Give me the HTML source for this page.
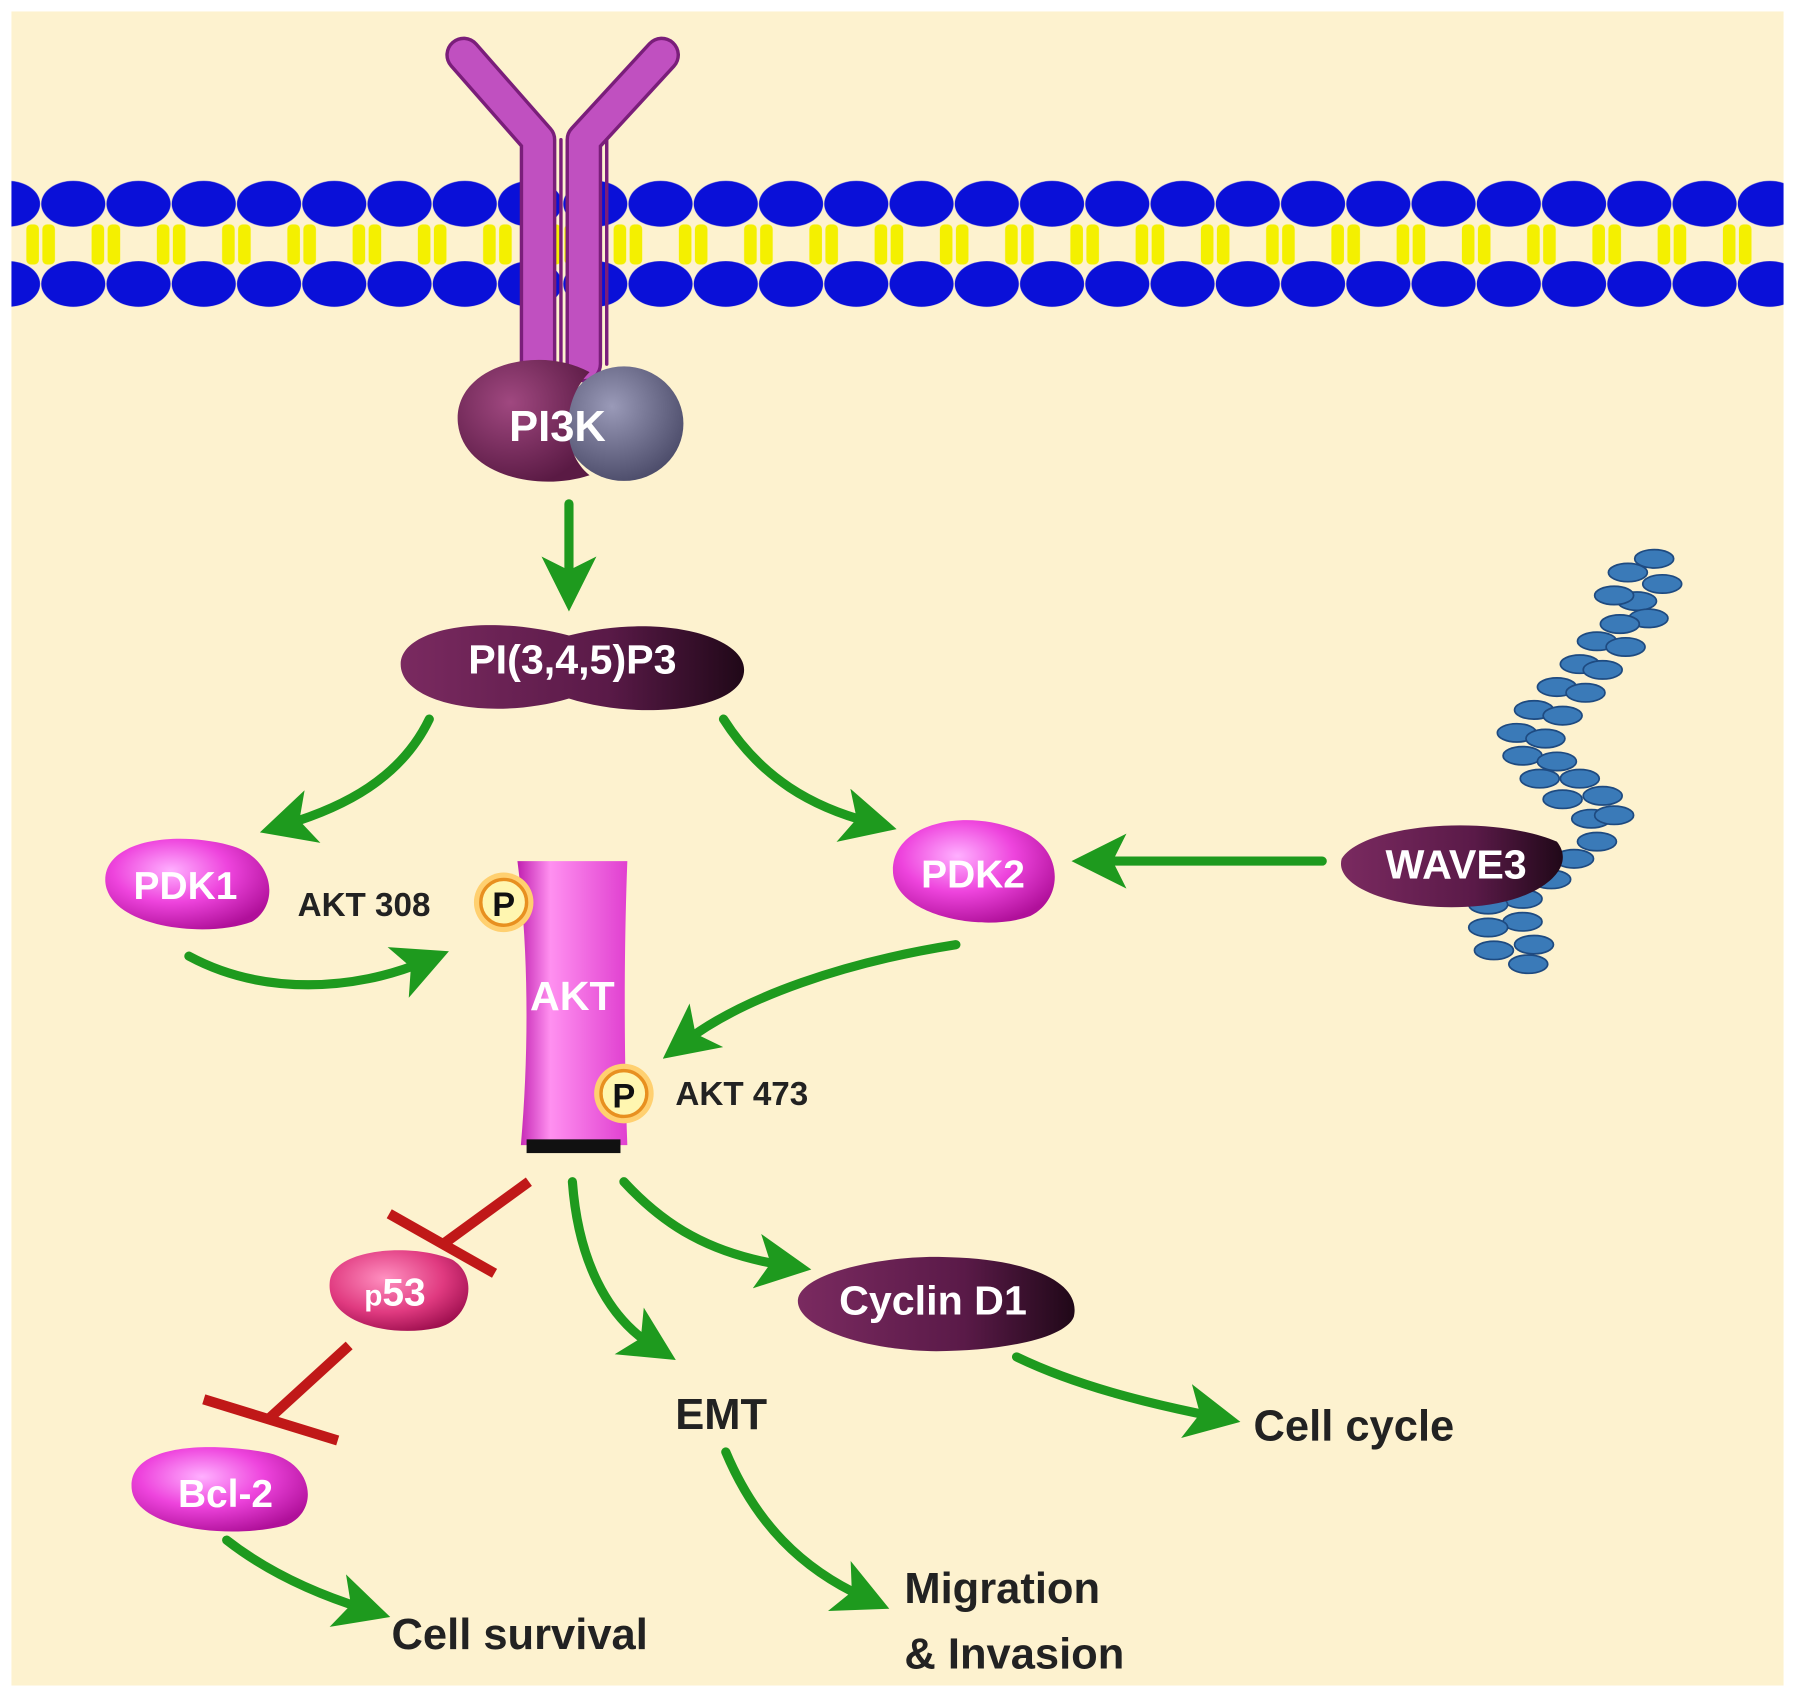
<!DOCTYPE html>
<html><head><meta charset="utf-8"><style>
html,body{margin:0;padding:0;background:#fff}
svg{display:block}
text{font-family:"Liberation Sans",Arial,sans-serif;font-weight:bold}
</style></head><body>
<svg width="1795" height="1697" viewBox="0 0 1568 1482" preserveAspectRatio="none" xmlns="http://www.w3.org/2000/svg">
<defs>
<radialGradient id="pink" cx="40%" cy="35%" r="70%"><stop offset="0" stop-color="#ffb0ff"/><stop offset="0.5" stop-color="#ee44dd"/><stop offset="1" stop-color="#b0109a"/></radialGradient>
<radialGradient id="red" cx="40%" cy="35%" r="70%"><stop offset="0" stop-color="#ff90c0"/><stop offset="0.6" stop-color="#e03a80"/><stop offset="1" stop-color="#a01050"/></radialGradient>
<linearGradient id="dark" x1="0" y1="0" x2="1" y2="0"><stop offset="0" stop-color="#7a2a60"/><stop offset="0.6" stop-color="#5a1a48"/><stop offset="1" stop-color="#200818"/></linearGradient>
<radialGradient id="pi3k" cx="40%" cy="35%" r="70%"><stop offset="0" stop-color="#a04880"/><stop offset="1" stop-color="#5a1a44"/></radialGradient>
<radialGradient id="gray" cx="40%" cy="35%" r="70%"><stop offset="0" stop-color="#9a9ab8"/><stop offset="1" stop-color="#4a4a68"/></radialGradient>
<linearGradient id="akt" x1="0" y1="0" x2="1" y2="0"><stop offset="0" stop-color="#c020b0"/><stop offset="0.3" stop-color="#ff90f0"/><stop offset="1" stop-color="#e040d0"/></linearGradient>
<marker id="ah" markerWidth="6" markerHeight="6" refX="3" refY="3" orient="auto" markerUnits="strokeWidth"><path d="M0,0 L6,3 L0,6 L1.5,3 z" fill="#1e9a1e"/></marker>
<pattern id="mem" x="7" y="0" width="57" height="300" patternUnits="userSpaceOnUse">
<ellipse cx="0" cy="178" rx="28" ry="20" fill="#0a10d8"/><ellipse cx="57" cy="178" rx="28" ry="20" fill="#0a10d8"/>
<ellipse cx="0" cy="248" rx="28" ry="20" fill="#0a10d8"/><ellipse cx="57" cy="248" rx="28" ry="20" fill="#0a10d8"/>
<rect x="16" y="196" width="11" height="35" rx="4" fill="#f4f000"/><rect x="30" y="196" width="11" height="35" rx="4" fill="#f4f000"/>
</pattern>
</defs>
<rect width="1568" height="1482" fill="#fff"/>
<rect x="10" y="10" width="1548" height="1462" fill="#fdf2cf"/>
<rect x="10" y="150" width="1548" height="125" fill="url(#mem)"/>
<!-- receptor -->
<g fill="none" stroke-linecap="round" stroke-linejoin="round">
<path d="M405,48 L470,122 L470,318" stroke="#7a1e7a" stroke-width="32"/>
<path d="M578,48 L510,122 L510,318" stroke="#7a1e7a" stroke-width="32"/>
<path d="M405,48 L470,122 L470,318" stroke="#c050c0" stroke-width="26"/>
<path d="M578,48 L510,122 L510,318" stroke="#c050c0" stroke-width="26"/>
<path d="M470,122 L470,318 M510,122 L510,318" stroke="#7a1e7a" stroke-width="3" transform="translate(20,0)"/>
</g>
<ellipse cx="545" cy="370" rx="52" ry="50" fill="url(#gray)"/>
<path d="M400,370 C395,320 470,300 515,325 C490,350 490,395 515,415 C470,430 405,415 400,370 Z" fill="url(#pi3k)"/>
<text x="487" y="385" font-size="38" fill="#fff" text-anchor="middle">PI3K</text>
<g fill="none" stroke="#1e9a1e" stroke-width="8" stroke-linecap="round">
<path d="M497,440 L497,510" marker-end="url(#ah)"/>
<path d="M375,628 C350,680 300,705 250,720" marker-end="url(#ah)"/>
<path d="M632,628 C665,680 710,705 760,718" marker-end="url(#ah)"/>
<path d="M1155,752 L960,752" marker-end="url(#ah)"/>
<path d="M165,835 C230,870 310,865 370,840" marker-end="url(#ah)"/>
<path d="M835,825 C740,840 650,870 598,910" marker-end="url(#ah)"/>
<path d="M500,1032 C505,1100 530,1150 570,1175" marker-end="url(#ah)"/>
<path d="M545,1032 C580,1070 620,1095 685,1105" marker-end="url(#ah)"/>
<path d="M888,1185 C940,1210 1000,1225 1060,1237" marker-end="url(#ah)"/>
<path d="M634,1268 C660,1330 700,1370 755,1395" marker-end="url(#ah)"/>
<path d="M198,1345 C230,1370 270,1390 318,1405" marker-end="url(#ah)"/>
</g>
<path d="M350,580 C350,550 420,535 497,555 C575,535 650,555 650,585 C650,620 560,630 497,610 C430,630 350,615 350,580 Z" fill="url(#dark)"/>
<text x="500" y="588" font-size="36" fill="#fff" text-anchor="middle">PI(3,4,5)P3</text>
<path d="M92,770 C90,735 150,725 200,738 C240,748 245,790 220,805 C180,820 95,810 92,770 Z" fill="url(#pink)"/>
<text x="162" y="785" font-size="34" fill="#fff" text-anchor="middle">PDK1</text>
<path d="M780,760 C780,720 840,705 890,725 C930,740 930,785 900,800 C860,815 780,800 780,760 Z" fill="url(#pink)"/>
<text x="850" y="775" font-size="34" fill="#fff" text-anchor="middle">PDK2</text>
<g fill="#3a7ab8" stroke="#1e4a80" stroke-width="1.5">
<ellipse cx="1445" cy="488" rx="17" ry="8"/><ellipse cx="1452" cy="510" rx="17" ry="8"/><ellipse cx="1422" cy="500" rx="17" ry="8"/><ellipse cx="1430" cy="525" rx="17" ry="8"/><ellipse cx="1410" cy="520" rx="17" ry="8"/><ellipse cx="1440" cy="540" rx="17" ry="8"/><ellipse cx="1415" cy="545" rx="17" ry="8"/><ellipse cx="1395" cy="560" rx="17" ry="8"/><ellipse cx="1420" cy="565" rx="17" ry="8"/><ellipse cx="1380" cy="580" rx="17" ry="8"/><ellipse cx="1400" cy="585" rx="17" ry="8"/><ellipse cx="1360" cy="600" rx="17" ry="8"/><ellipse cx="1385" cy="605" rx="17" ry="8"/><ellipse cx="1340" cy="620" rx="17" ry="8"/><ellipse cx="1365" cy="625" rx="17" ry="8"/><ellipse cx="1325" cy="640" rx="17" ry="8"/><ellipse cx="1350" cy="645" rx="17" ry="8"/><ellipse cx="1330" cy="660" rx="17" ry="8"/><ellipse cx="1360" cy="665" rx="17" ry="8"/><ellipse cx="1345" cy="680" rx="17" ry="8"/><ellipse cx="1380" cy="680" rx="17" ry="8"/><ellipse cx="1365" cy="698" rx="17" ry="8"/><ellipse cx="1400" cy="695" rx="17" ry="8"/><ellipse cx="1390" cy="715" rx="17" ry="8"/><ellipse cx="1410" cy="712" rx="17" ry="8"/><ellipse cx="1395" cy="735" rx="17" ry="8"/><ellipse cx="1375" cy="750" rx="17" ry="8"/><ellipse cx="1355" cy="768" rx="17" ry="8"/><ellipse cx="1330" cy="785" rx="17" ry="8"/><ellipse cx="1300" cy="790" rx="17" ry="8"/><ellipse cx="1330" cy="805" rx="17" ry="8"/><ellipse cx="1300" cy="810" rx="17" ry="8"/><ellipse cx="1340" cy="825" rx="17" ry="8"/><ellipse cx="1305" cy="830" rx="17" ry="8"/><ellipse cx="1335" cy="842" rx="17" ry="8"/>
</g>
<path d="M1172,750 C1190,720 1300,710 1360,735 C1380,760 1340,790 1280,792 C1220,795 1165,775 1172,750 Z" fill="url(#dark)"/>
<text x="1272" y="767" font-size="36" fill="#fff" text-anchor="middle">WAVE3</text>
<path d="M452,752 L548,752 C545,830 545,920 548,1000 L455,1000 C462,920 462,830 452,752 Z" fill="url(#akt)"/>
<rect x="460" y="995" width="82" height="12" fill="#111"/>
<text x="500" y="882" font-size="36" fill="#fff" text-anchor="middle">AKT</text>
<g>
<circle cx="440" cy="788" r="26" fill="#ffd070"/><circle cx="440" cy="788" r="20" fill="#fff6b0" stroke="#e89020" stroke-width="3"/>
<text x="440" y="800" font-size="30" fill="#111" text-anchor="middle">P</text>
<circle cx="545" cy="955" r="26" fill="#ffd070"/><circle cx="545" cy="955" r="20" fill="#fff6b0" stroke="#e89020" stroke-width="3"/>
<text x="545" y="967" font-size="30" fill="#111" text-anchor="middle">P</text>
</g>
<text x="260" y="800" font-size="29" fill="#222">AKT 308</text>
<text x="590" y="965" font-size="29" fill="#222">AKT 473</text>
<g stroke="#c01818" stroke-width="9" stroke-linecap="butt" fill="none">
<path d="M462,1032 L385,1088"/><path d="M340,1060 L432,1112"/>
<path d="M305,1175 L236,1238"/><path d="M178,1222 L295,1258"/>
</g>
<path d="M288,1120 C290,1090 360,1085 395,1100 C420,1115 410,1155 380,1160 C340,1168 285,1155 288,1120 Z" fill="url(#red)"/>
<text x="345" y="1140" font-size="34" fill="#fff" text-anchor="middle"><tspan font-size="26">p</tspan>53</text>
<path d="M115,1300 C112,1265 170,1258 230,1268 C275,1275 280,1320 250,1332 C200,1345 118,1335 115,1300 Z" fill="url(#pink)"/>
<text x="197" y="1316" font-size="34" fill="#fff" text-anchor="middle">Bcl-2</text>
<path d="M697,1135 C700,1110 780,1095 830,1098 C900,1100 945,1120 938,1150 C930,1170 870,1180 818,1180 C760,1180 695,1160 697,1135 Z" fill="url(#dark)"/>
<text x="815" y="1148" font-size="36" fill="#fff" text-anchor="middle">Cyclin D1</text>
<g font-size="38" fill="#222">
<text x="630" y="1248" text-anchor="middle">EMT</text>
<text x="1095" y="1258">Cell cycle</text>
<text x="790" y="1400">Migration</text>
<text x="790" y="1457">&amp; Invasion</text>
<text x="342" y="1440">Cell survival</text>
</g>
</svg>
</body></html>
